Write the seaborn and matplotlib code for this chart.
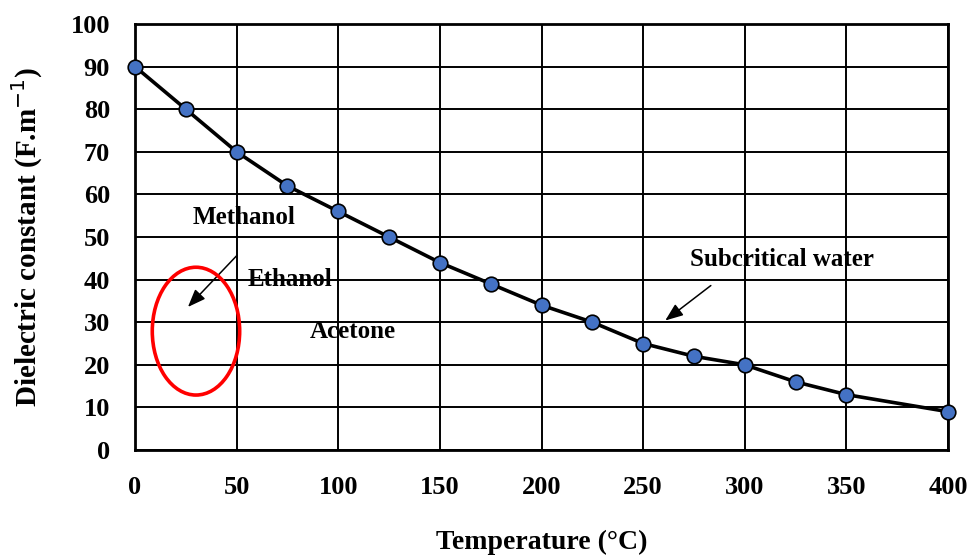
import matplotlib
matplotlib.use("Agg")
import matplotlib.pyplot as plt
from matplotlib import font_manager
import matplotlib.patheffects as pe
from matplotlib.patches import Ellipse
import seaborn as sns
import pandas as pd

# Dielectric constant of subcritical water versus temperature
temperature = [0, 25, 50, 75, 100, 125, 150, 175, 200, 225, 250, 275, 300, 325, 350, 400]
dielectric = [90, 80, 70, 62, 56, 50, 44, 39, 34, 30, 25, 22, 20, 16, 13, 9]

x_ticks = [0, 50, 100, 150, 200, 250, 300, 350, 400]
y_ticks = [0, 10, 20, 30, 40, 50, 60, 70, 80, 90, 100]

solvents = ["Methanol", "Ethanol", "Acetone"]
solvent_pos = [(28.5, 54.5), (55.5, 40.0), (86.0, 27.8)]

df = pd.DataFrame({"Temperature": temperature, "Dielectric": dielectric})

sns.set_theme(style="white")
plt.rcParams["font.family"] = ["Liberation Serif", "DejaVu Serif"]
plt.rcParams["text.color"] = "black"
plt.rcParams["axes.labelcolor"] = "black"
plt.rcParams["xtick.color"] = "black"
plt.rcParams["ytick.color"] = "black"

fonts = [(f.name, f.weight) for f in font_manager.fontManager.ttflist]
has_bold = any(n == "Liberation Serif" and (w == "bold" or w == 700) for n, w in fonts)
bold_fx = [] if has_bold else [pe.withStroke(linewidth=0.9, foreground="black")]

fig = plt.figure(figsize=(9.73, 5.58), dpi=100)
ax = fig.add_axes([135 / 973, 108 / 558, 813 / 973, 426 / 558])

sns.lineplot(data=df, x="Temperature", y="Dielectric", ax=ax, color="black",
             linewidth=2.6, marker="o", markersize=10.5,
             markerfacecolor="#4472C4", markeredgecolor="black",
             markeredgewidth=1.2, zorder=5, clip_on=False)

ax.set_xlim(0, 400)
ax.set_ylim(0, 100)
ax.set_xticks(x_ticks)
ax.set_yticks(y_ticks)
ax.grid(True, color="black", linewidth=1.4)
ax.set_axisbelow(True)
for side in ["left", "right", "top", "bottom"]:
    ax.spines[side].set_visible(True)
    ax.spines[side].set_color("black")
    ax.spines[side].set_linewidth(2.0)
ax.tick_params(axis="both", length=0, labelsize=19)
ax.tick_params(axis="x", pad=19)
ax.tick_params(axis="y", pad=18)
for lbl in ax.get_xticklabels() + ax.get_yticklabels():
    lbl.set_fontweight("bold")
    lbl.set_path_effects(bold_fx)

ax.set_xlabel("Temperature (°C)", fontsize=20, fontweight="bold", labelpad=22,
              path_effects=bold_fx)
ax.set_ylabel("Dielectric constant (F.m$^{-1}$)", fontsize=21,
              fontweight="bold", labelpad=18, path_effects=bold_fx)

for name, (tx, ty) in zip(solvents, solvent_pos):
    ax.text(tx, ty, name, fontsize=18, fontweight="bold", ha="left",
            va="center", zorder=6, path_effects=bold_fx)
ax.text(273, 44.8, "Subcritical water", fontsize=18, fontweight="bold",
        ha="left", va="center", zorder=6, path_effects=bold_fx)

arrow_style = dict(arrowstyle="-|>,head_length=0.9,head_width=0.35",
                   color="black", lw=1.1)
ax.annotate("", xy=(25.1, 33.1), xytext=(51.2, 46.2), arrowprops=arrow_style,
            zorder=6)
ax.annotate("", xy=(259.8, 30.0), xytext=(284.4, 39.0), arrowprops=arrow_style,
            zorder=6)

ax.add_patch(Ellipse((30, 27.9), width=43, height=30, fill=False,
                     edgecolor="red", linewidth=2.6, zorder=6))

fig.savefig("out.png", dpi=100)
